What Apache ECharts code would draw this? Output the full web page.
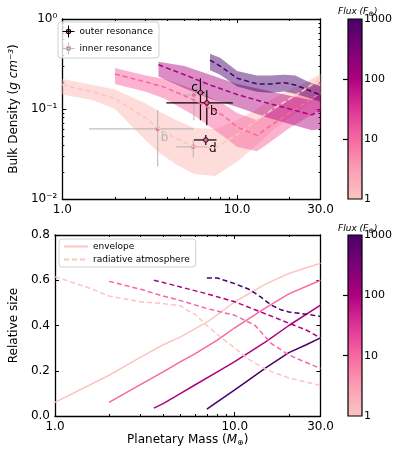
<!DOCTYPE html>
<html><head><meta charset="utf-8">
<script src="https://cdn.jsdelivr.net/npm/echarts@6/dist/echarts.min.js"></script>
<style>html,body{margin:0;padding:0;background:#fff}#c{width:397px;height:453px}</style>
</head><body><div id="c"></div>
<script>
// ---------- colours for the four flux levels (1, 10, 100, 1000 F_earth) ----------
const fluxTicks = [1, 10, 100, 1000];
const fluxColors = ['#fcc5c0', '#f768a1', '#ae017e', '#49006a'];

// ---------- top panel: bulk density bands ----------
const massF1 = [1, 1.5, 2, 3, 3.55, 4.5, 5.66, 7.5, 10, 13, 16, 20, 25, 30];
const medF1  = [0.185, 0.155, 0.131, 0.079, 0.061, 0.047, 0.038, 0.037, 0.052, 0.075, 0.10, 0.13, 0.17, 0.22];
const hiF1   = [0.215, 0.185, 0.165, 0.115, 0.095, 0.075, 0.062, 0.06, 0.075, 0.10, 0.13, 0.165, 0.2, 0.245];
const loF1   = [0.145, 0.125, 0.10, 0.045, 0.033, 0.024, 0.019, 0.018, 0.026, 0.04, 0.058, 0.08, 0.11, 0.14];

const massF10 = [2, 3, 3.86, 5.66, 8.3, 10, 13, 16, 20, 25, 30];
const medF10  = [0.245, 0.2, 0.174, 0.126, 0.085, 0.063, 0.051, 0.068, 0.09, 0.12, 0.15];
const hiF10   = [0.285, 0.235, 0.215, 0.165, 0.115, 0.09, 0.075, 0.095, 0.125, 0.165, 0.2];
const loF10   = [0.19, 0.155, 0.13, 0.085, 0.05, 0.038, 0.034, 0.045, 0.062, 0.08, 0.1];

const massF100 = [3.55, 5, 7, 10, 15, 20, 26.8, 30];
const medF100  = [0.31, 0.24, 0.185, 0.145, 0.116, 0.1, 0.086, 0.097];
const hiF100   = [0.335, 0.30, 0.24, 0.19, 0.16, 0.14, 0.125, 0.15];
const loF100   = [0.23, 0.17, 0.13, 0.105, 0.08, 0.068, 0.058, 0.06];

const massF1000 = [7, 8, 10, 13, 15.5, 18.7, 21.5, 25, 30];
const medF1000  = [0.35, 0.30, 0.22, 0.19, 0.19, 0.196, 0.185, 0.165, 0.143];
const hiF1000   = [0.41, 0.37, 0.265, 0.235, 0.235, 0.24, 0.235, 0.205, 0.178];
const loF1000   = [0.27, 0.24, 0.178, 0.155, 0.152, 0.156, 0.148, 0.135, 0.12];

// ---------- top panel: planets [mass, density, massLo, massHi, densLo, densHi] ----------
const outerNames = ['c', 'b', 'd'];
const outerPts = [
  [6.17, 0.152, 5.9, 6.5, 0.075, 0.219],
  [6.71, 0.117, 3.94, 9.45, 0.066, 0.162],
  [6.62, 0.0453, 5.66, 7.62, 0.0398, 0.0515]
];
const innerNames = ['', 'b', ''];
const innerPts = [
  [5.66, 0.143, 4.87, 6.56, 0.075, 0.18],
  [3.51, 0.060, 1.42, 5.66, 0.023, 0.0975],
  [5.62, 0.038, 4.47, 6.72, 0.029, 0.045]
];

// ---------- bottom panel: relative size ----------
const envMassF1 = [1, 2, 3, 4, 5, 6, 7, 8, 10, 15, 20, 30];
const envF1     = [0.06, 0.18, 0.26, 0.315, 0.35, 0.385, 0.415, 0.447, 0.505, 0.585, 0.63, 0.675];
const envMassF10 = [2, 3, 4, 5, 6, 8, 10, 15, 20, 30];
const envF10     = [0.06, 0.14, 0.195, 0.24, 0.275, 0.335, 0.39, 0.48, 0.54, 0.60];
const envMassF100 = [3.55, 4, 5, 6, 8, 10, 15, 20, 30];
const envF100     = [0.035, 0.055, 0.10, 0.137, 0.195, 0.24, 0.33, 0.40, 0.49];
const envMassF1000 = [7, 8, 10, 13, 15, 20, 25, 30];
const envF1000     = [0.03, 0.062, 0.115, 0.18, 0.215, 0.28, 0.315, 0.345];

const radMassF1 = [1, 1.5, 2, 3, 4, 5, 5.5, 6, 7, 8, 10, 12, 15, 20, 30];
const radF1     = [0.615, 0.57, 0.53, 0.505, 0.497, 0.487, 0.465, 0.45, 0.40, 0.36, 0.30, 0.25, 0.205, 0.168, 0.135];
const radMassF10 = [2, 3, 4, 5, 7, 10, 13, 16, 20, 22, 30];
const radF10     = [0.595, 0.56, 0.53, 0.51, 0.475, 0.445, 0.40, 0.32, 0.27, 0.255, 0.21];
const radMassF100 = [3.55, 4, 5, 7, 10, 15, 20, 25, 30];
const radF100     = [0.60, 0.59, 0.57, 0.54, 0.505, 0.45, 0.41, 0.38, 0.345];
const radMassF1000 = [7, 8, 10, 12, 14, 16, 18, 20, 25, 30];
const radF1000     = [0.61, 0.61, 0.585, 0.56, 0.525, 0.49, 0.47, 0.46, 0.45, 0.44];

// ---------- tick values ----------
const massMajorTicks = [1, 10];
const massLabelTicks = [1, 10, 30];
const massMinorTicks = [2, 3, 4, 5, 6, 7, 8, 9, 20];
const densMajorTicks = [0.01, 0.1, 1];
const densMinorTicks = [0.02,0.03,0.04,0.05,0.06,0.07,0.08,0.09,0.2,0.3,0.4,0.5,0.6,0.7,0.8,0.9];

const FONT = 'DejaVu Sans';
const pink = '#ee5a96';

function zip(a, b) { return a.map((v, i) => [v, b[i]]); }

const G = [
  {left: 54.5, top: 19, width: 266, height: 180},
  {left: 54.5, top: 235, width: 266, height: 181},
  {left: 348, top: 19, width: 14, height: 180},
  {left: 348, top: 235, width: 14, height: 181}
];
const cbGrad = () => new echarts.graphic.LinearGradient(0, 0, 0, 1, [
  {offset: 0, color: '#49006a'}, {offset: 1/6, color: '#7a0177'}, {offset: 2/6, color: '#ae017e'},
  {offset: 3/6, color: '#dd3497'}, {offset: 4/6, color: '#f768a1'}, {offset: 5/6, color: '#fa9fb5'},
  {offset: 1, color: '#fcc5c0'}
]);
G[2].show = true; G[2].backgroundColor = cbGrad(); G[2].borderColor = '#000'; G[2].borderWidth = 1.2;
G[3].show = true; G[3].backgroundColor = cbGrad(); G[3].borderColor = '#000'; G[3].borderWidth = 1.2;

const line = {show: true, lineStyle: {color: '#000', width: 1.3}};
function massAxis(grid, pos, major, withLabels, name) {
  const ax = {
    type: 'log', logBase: 10, min: 1, max: 30, gridIndex: grid, position: pos,
    axisLine: major ? line : {show: false},
    splitLine: {show: false},
    axisTick: {show: true, inside: true, length: major ? 4 : 2, lineStyle: {color: '#000', width: 1},
      customValues: major ? massMajorTicks : massMinorTicks},
    axisLabel: withLabels ? {show: true, customValues: massLabelTicks, color: '#000', fontFamily: FONT, fontSize: 12,
      margin: 5, formatter: v => Number(v).toFixed(1)} : {show: false}
  };
  if (name) {
    ax.name = '{n|Planetary Mass (}{i|M}{s|⊕}{n|)}';
    ax.nameLocation = 'middle'; ax.nameGap = 17;
    ax.nameTextStyle = {rich: {
      n: {fontFamily: FONT, fontSize: 12, color: '#000'},
      i: {fontFamily: FONT, fontSize: 12, color: '#000', fontStyle: 'italic'},
      s: {fontFamily: FONT, fontSize: 8, color: '#000', padding: [6, 0, 0, 0]}
    }};
  }
  return ax;
}
function densAxis(pos, major, withLabels) {
  const ax = {
    type: 'log', logBase: 10, min: 0.01, max: 1, gridIndex: 0, position: pos,
    axisLine: major ? line : {show: false}, splitLine: {show: false},
    axisTick: {show: true, inside: true, length: major ? 4 : 2, lineStyle: {color: '#000', width: 1},
      customValues: major ? densMajorTicks : densMinorTicks},
    axisLabel: withLabels ? {show: true, customValues: densMajorTicks, color: '#000', fontFamily: FONT, fontSize: 12, margin: 5,
      formatter: v => ({'-2': '10⁻²', '-1': '10⁻¹', '0': '10⁰'})[String(Math.round(Math.log10(v)))]} : {show: false}
  };
  if (withLabels) {
    ax.name = '{n|Bulk Density (}{i|g cm⁻³}{n|)}';
    ax.nameLocation = 'middle'; ax.nameGap = 38;
    ax.nameTextStyle = {rich: {
      n: {fontFamily: FONT, fontSize: 12, color: '#000'},
      i: {fontFamily: FONT, fontSize: 12, color: '#000', fontStyle: 'italic'}
    }};
  }
  return ax;
}
function sizeAxis(pos, withLabels) {
  const ax = {
    type: 'value', min: 0, max: 0.8, interval: 0.2, gridIndex: 1, position: pos,
    axisLine: line, splitLine: {show: false},
    axisTick: {show: true, inside: true, length: 4, lineStyle: {color: '#000', width: 1}},
    axisLabel: withLabels ? {show: true, color: '#000', fontFamily: FONT, fontSize: 12, margin: 5,
      formatter: v => Number(v).toFixed(1)} : {show: false}
  };
  if (withLabels) {
    ax.name = 'Relative size'; ax.nameLocation = 'middle'; ax.nameGap = 28;
    ax.nameTextStyle = {fontFamily: FONT, fontSize: 12, color: '#000'};
  }
  return ax;
}
function cbAxis(grid) {
  return {type: 'log', logBase: 10, min: 1, max: 1000, gridIndex: grid, position: 'right',
    axisLine: {show: false}, splitLine: {show: false},
    axisTick: {show: true, inside: true, length: 5, customValues: [10, 100], lineStyle: {color: '#000', width: 1.2}},
    axisLabel: {show: true, customValues: fluxTicks, color: '#000', fontFamily: FONT, fontSize: 11, margin: 2,
      formatter: v => String(Math.round(v))}};
}
const hiddenX = g => ({type: 'value', gridIndex: g, show: false, min: 0, max: 1});

const xAxis = [
  massAxis(0, 'bottom', true, true), massAxis(0, 'bottom', false, false),
  massAxis(0, 'top', true, false), massAxis(0, 'top', false, false),
  massAxis(1, 'bottom', true, true, true), massAxis(1, 'bottom', false, false),
  massAxis(1, 'top', true, false), massAxis(1, 'top', false, false),
  hiddenX(2), hiddenX(3)
];
const yAxis = [
  densAxis('left', true, true), densAxis('left', false, false),
  densAxis('right', true, false), densAxis('right', false, false),
  sizeAxis('left', true), sizeAxis('right', false),
  cbAxis(2), cbAxis(3)
];

function band(mass, lo, hi, color, alpha) {
  return {type: 'custom', xAxisIndex: 0, yAxisIndex: 0, silent: true, data: [[mass[0], hi[0]]],
    encode: {x: 0, y: 1},
    renderItem: (params, api) => {
      const pts = [];
      for (let i = 0; i < mass.length; i++) pts.push(api.coord([mass[i], hi[i]]));
      for (let i = mass.length - 1; i >= 0; i--) pts.push(api.coord([mass[i], lo[i]]));
      return {type: 'polygon', shape: {points: pts}, style: {fill: color, opacity: alpha}};
    }};
}
function lineS(name, mass, vals, color, dashed, xi, yi) {
  return {type: 'line', name: name, xAxisIndex: xi, yAxisIndex: yi, data: zip(mass, vals),
    showSymbol: false, symbol: 'none', silent: true, color: color,
    lineStyle: {color: color, width: 1.5, type: dashed ? [5, 3] : 'solid'}};
}
function errS(name, pts, labels, lineColor, edgeColor, textColor, alpha) {
  return {type: 'custom', name: name, xAxisIndex: 0, yAxisIndex: 0, data: pts, encode: {x: 0, y: 1},
    renderItem: (params, api) => {
      const r = pts[params.dataIndex];
      const c = api.coord([r[0], r[1]]);
      const l = api.coord([r[2], r[1]]), rr = api.coord([r[3], r[1]]);
      const b = api.coord([r[0], r[4]]), t = api.coord([r[0], r[5]]);
      const lab = labels[params.dataIndex];
      const ch = [
        {type: 'line', shape: {x1: l[0], y1: l[1], x2: rr[0], y2: rr[1]}, style: {stroke: lineColor, lineWidth: 1.2, opacity: alpha}},
        {type: 'line', shape: {x1: b[0], y1: b[1], x2: t[0], y2: t[1]}, style: {stroke: lineColor, lineWidth: 1.2, opacity: alpha}},
        {type: 'circle', shape: {cx: c[0], cy: c[1], r: 2.3}, style: {fill: pink, stroke: edgeColor, lineWidth: 0.8, opacity: alpha < 1 ? 0.85 : 1}}
      ];
      if (lab) {
        let dx = 7, dy = 9;
        if (name === 'outer resonance' && lab === 'c') { dx = -6; dy = -5; }
        ch.push({type: 'text', style: {text: lab, x: c[0] + dx, y: c[1] + dy, fill: textColor,
          font: '12px "DejaVu Sans"', align: 'center', verticalAlign: 'middle'}});
      }
      return {type: 'group', children: ch};
    }};
}

const series = [
  band(massF1, loF1, hiF1, fluxColors[0], 0.6),
  lineS('d1', massF1, medF1, fluxColors[0], true, 0, 0),
  band(massF10, loF10, hiF10, fluxColors[1], 0.5),
  lineS('d10', massF10, medF10, fluxColors[1], true, 0, 0),
  band(massF100, loF100, hiF100, fluxColors[2], 0.45),
  lineS('d100', massF100, medF100, fluxColors[2], true, 0, 0),
  band(massF1000, loF1000, hiF1000, fluxColors[3], 0.48),
  lineS('d1000', massF1000, medF1000, fluxColors[3], true, 0, 0),
  errS('inner resonance', innerPts, innerNames, '#b4b4b4', '#c8c8c8', '#b4b4b4', 0.85),
  errS('outer resonance', outerPts, outerNames, '#000', '#000', '#000', 1),
  lineS('envelope', envMassF1, envF1, fluxColors[0], false, 4, 4),
  lineS('e10', envMassF10, envF10, fluxColors[1], false, 4, 4),
  lineS('e100', envMassF100, envF100, fluxColors[2], false, 4, 4),
  lineS('e1000', envMassF1000, envF1000, fluxColors[3], false, 4, 4),
  lineS('radiative atmosphere', radMassF1, radF1, fluxColors[0], true, 4, 4),
  lineS('r10', radMassF10, radF10, fluxColors[1], true, 4, 4),
  lineS('r100', radMassF100, radF100, fluxColors[2], true, 4, 4),
  lineS('r1000', radMassF1000, radF1000, fluxColors[3], true, 4, 4)
];

const crossIcon = 'path://M0,10 L20,10 M10,0 L10,20 M14,10 A4,4 0 1,1 6,10 A4,4 0 1,1 14,10 Z';
const legendBox = {orient: 'vertical', backgroundColor: 'rgba(255,255,255,0.8)', borderColor: '#d0d0d0',
  borderWidth: 1, borderRadius: 3, itemGap: 4, selectedMode: false,
  textStyle: {fontFamily: FONT, fontSize: 9, color: '#000'}};
const fluxTitle = {rich: {
  n: {fontFamily: FONT, fontSize: 9, fontStyle: 'italic', fontWeight: 'normal', color: '#000'},
  s: {fontFamily: FONT, fontSize: 7, fontWeight: 'normal', color: '#000', padding: [5, 0, 0, 0]}},
  fontWeight: 'normal'};

const option = {
  animation: false,
  backgroundColor: '#fff',
  grid: G,
  xAxis: xAxis, yAxis: yAxis,
  title: [
    {text: '{n|Flux (F}{s|⊕}{n|)}', left: 333, top: 1, textStyle: fluxTitle},
    {text: '{n|Flux (F}{s|⊕}{n|)}', left: 333, top: 218, textStyle: fluxTitle}
  ],
  legend: [
    Object.assign({}, legendBox, {left: 58, top: 22, padding: [3, 6, 3, 4], itemWidth: 12, itemHeight: 12,
      data: [
        {name: 'outer resonance', icon: crossIcon, itemStyle: {color: pink, borderColor: '#000', borderWidth: 1}},
        {name: 'inner resonance', icon: crossIcon, itemStyle: {color: pink, borderColor: '#bbbbbb', borderWidth: 1}}
      ]}),
    Object.assign({}, legendBox, {left: 59, top: 239, padding: [3, 6, 3, 4], itemWidth: 24, itemHeight: 8,
      itemStyle: {opacity: 0},
      data: ['envelope', 'radiative atmosphere']})
  ],
  series: series
};
const chart = echarts.init(document.getElementById('c'), null, {renderer: 'canvas'});
chart.setOption(option);
</script></body></html>
